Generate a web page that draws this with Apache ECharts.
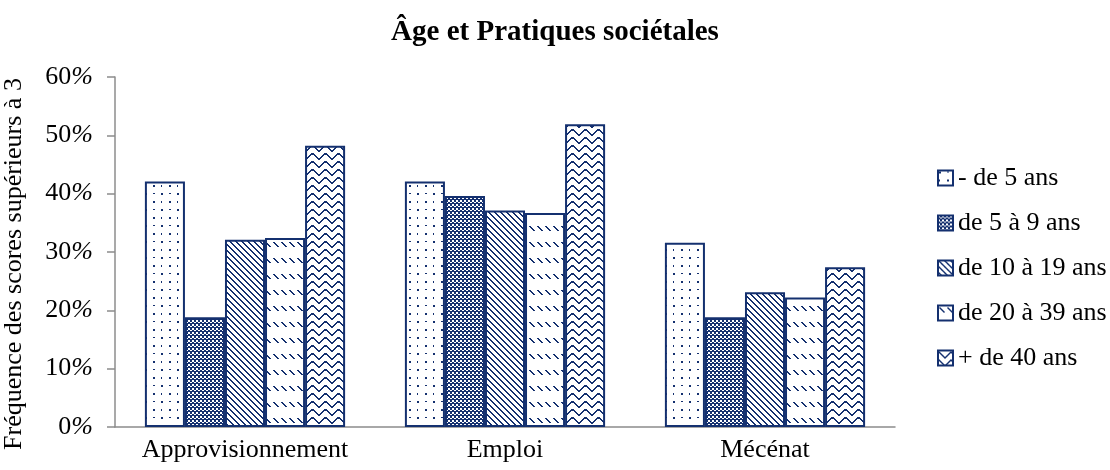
<!DOCTYPE html>
<html>
<head>
<meta charset="utf-8">
<script src="https://cdn.jsdelivr.net/npm/echarts@6/dist/echarts.min.js"></script>
<style>
  html, body { margin: 0; padding: 0; background: #fff; }
  #chart { width: 1110px; height: 470px; }
</style>
</head>
<body>
<div id="chart"></div>
<script>
// Practice categories along the x axis
const categories = ['Approvisionnement', 'Emploi', 'Mécénat'];

// Age groups (one series each)
const seriesNames = ['- de 5 ans', 'de 5 à 9 ans', 'de 10 à 19 ans', 'de 20 à 39 ans', '+ de 40 ans'];

// Share of scores above 3, in percent
const lessThan5 = [42.1, 42.1, 31.6];
const from5to9 = [18.8, 39.6, 18.8];
const from10to19 = [32.1, 37.1, 23.1];
const from20to39 = [32.4, 36.7, 22.2];
const over40 = [48.2, 51.9, 27.4];

// Value axis range
const yMin = 0;
const yMax = 60;
const yStep = 10;

const NAVY = '#14306f';
const FONT = '"Liberation Serif", "Times New Roman", serif';

// Small repeating tiles used as hatch fills
function tile(w, h, draw) {
  const c = document.createElement('canvas');
  c.width = w; c.height = h;
  const g = c.getContext('2d');
  g.fillStyle = '#fff';
  g.fillRect(0, 0, w, h);
  g.fillStyle = NAVY;
  g.strokeStyle = NAVY;
  draw(g, w, h);
  return { image: c, repeat: 'repeat' };
}

// sparse dots
const dotted = tile(16, 16, g => {
  g.fillRect(1, 1, 2, 2);
  g.fillRect(9, 1, 2, 1);
  g.fillRect(1, 9, 1, 2);
  g.fillRect(9, 9, 2, 2);
});

// fine checkerboard
const checker = tile(4, 4, g => {
  g.fillRect(0, 0, 4, 4);
  g.fillStyle = '#fff';
  g.fillRect(0, 0, 2, 2);
  g.fillRect(2, 2, 2, 1);
});

// downward diagonal lines
const diagonal = tile(6, 6, (g, w) => {
  for (let i = 0; i < w; i++) {
    g.fillRect(i, i, 1, 1);
    g.fillRect((i + 1) % w, i, 1, 1);
  }
});

// short downward diagonal dashes
const dashedDiagonal = tile(8, 16, g => {
  for (let i = 0; i < 5; i++) {
    g.fillRect(1 + i, 2 + i, 2, 1);
  }
});

// horizontal waves
const wave = tile(13, 8, (g, w) => {
  for (let x = 0; x < w; x++) {
    const y = Math.round(3.5 - 2.5 * Math.cos(2 * Math.PI * x / w));
    g.fillRect(x, y, 1, 2);
  }
});

const fills = [dotted, checker, diagonal, dashedDiagonal, wave];
const values = [lessThan5, from5to9, from10to19, from20to39, over40];

const chart = echarts.init(document.getElementById('chart'), null, { renderer: 'canvas' });

chart.setOption({
  animation: false,
  backgroundColor: '#fff',
  title: {
    text: 'Âge et Pratiques sociétales',
    left: 'center',
    top: 18,
    padding: 0,
    textStyle: { fontFamily: FONT, fontSize: 29, fontWeight: 'bold', color: '#000' }
  },
  legend: {
    orient: 'vertical',
    left: 937,
    top: 163,
    padding: 0,
    itemWidth: 15,
    itemHeight: 15,
    itemGap: 15,
    icon: 'rect',
    data: seriesNames,
    textStyle: { fontFamily: FONT, fontSize: 26, color: '#000', lineHeight: 30 }
  },
  grid: { left: 115, right: 215, top: 77, bottom: 43, outerBoundsMode: 'none', containLabel: false },
  xAxis: {
    type: 'category',
    data: categories,
    axisLine: { lineStyle: { color: '#8c8c8c', width: 1.5 } },
    axisTick: { length: 7, lineStyle: { color: '#8c8c8c', width: 1.5 } },
    axisLabel: { interval: 0, hideOverlap: false, fontFamily: FONT, fontSize: 26, color: '#000', margin: 10 }
  },
  yAxis: {
    type: 'value',
    min: yMin,
    max: yMax,
    interval: yStep,
    name: 'Fréquence des scores supérieurs à 3',
    nameLocation: 'middle',
    nameGap: 88,
    nameRotate: 90,
    nameTextStyle: { fontFamily: FONT, fontSize: 26, color: '#000', padding: [0, 24, 0, 0] },
    splitLine: { show: false },
    axisLine: { show: true, lineStyle: { color: '#8c8c8c', width: 1.5 } },
    axisTick: { show: true, length: 8, lineStyle: { color: '#8c8c8c', width: 1.5 } },
    axisLabel: {
      margin: 22,
      formatter: v => '{n|' + v + '}{p|%}',
      rich: {
        n: { fontFamily: FONT, fontSize: 26, color: '#000' },
        p: { fontFamily: FONT, fontSize: 26, fontStyle: 'italic', color: '#000' }
      }
    }
  },
  series: seriesNames.map((name, i) => ({
    name,
    type: 'bar',
    data: values[i],
    barGap: '0%',
    barCategoryGap: '23%',
    itemStyle: { color: fills[i], borderColor: NAVY, borderWidth: 2 },
    emphasis: { disabled: true }
  }))
});
</script>
</body>
</html>
